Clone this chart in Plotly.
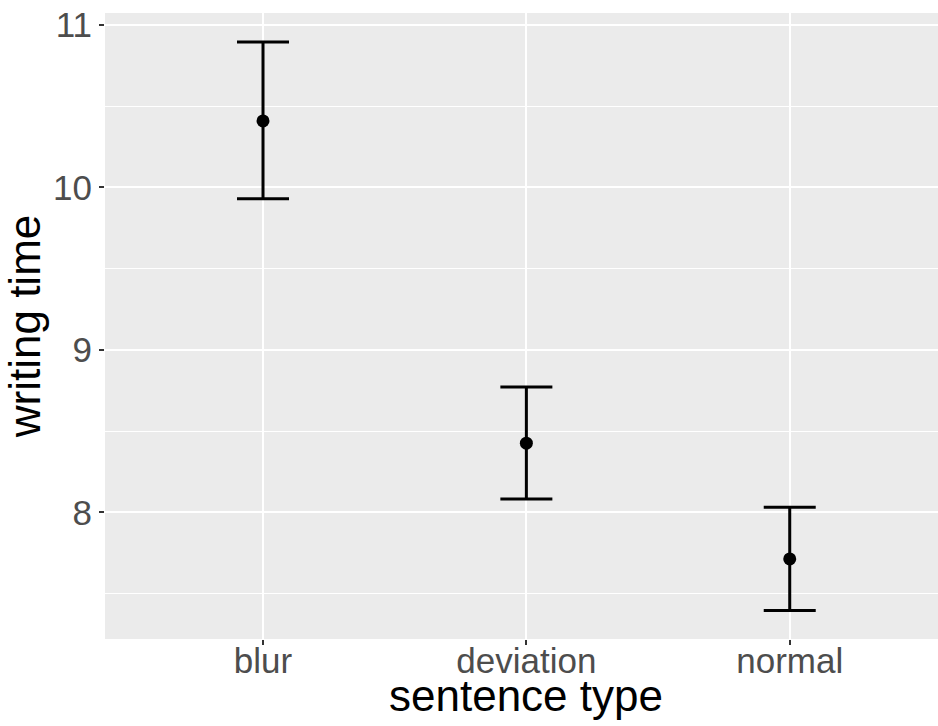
import plotly.graph_objects as go

categories = ["blur", "deviation", "normal"]
means = [10.41, 8.426, 7.714]
upper = [10.895, 8.772, 8.032]
lower = [9.93, 8.083, 7.396]

err_plus = [u - m for u, m in zip(upper, means)]
err_minus = [m - l for m, l in zip(means, lower)]

fig = go.Figure()
fig.add_trace(go.Scatter(
    x=categories, y=means, mode="markers",
    marker=dict(color="black", size=13),
    error_y=dict(type="data", symmetric=False, array=err_plus, arrayminus=err_minus,
                 color="black", thickness=3, width=26),
    showlegend=False,
))

font = "Liberation Sans, Arial, sans-serif"
fig.update_layout(
    width=938, height=726,
    margin=dict(l=105, r=0, t=13, b=87),
    paper_bgcolor="white", plot_bgcolor="#EBEBEB",
    font=dict(family=font),
    xaxis=dict(
        type="category", categoryorder="array", categoryarray=categories,
        range=[-0.6, 2.563],
        showgrid=True, gridcolor="white", gridwidth=2,
        ticks="outside", ticklen=5, tickwidth=1.5, tickcolor="#333333",
        tickfont=dict(size=35, color="#4D4D4D"),
        ticklabelstandoff=-14,
        zeroline=False, showline=False,
    ),
    yaxis=dict(
        range=[7.221, 11.074],
        tickvals=[8, 9, 10, 11],
        showgrid=True, gridcolor="white", gridwidth=2,
        minor=dict(tickvals=[7.5, 8.5, 9.5, 10.5], showgrid=True, gridcolor="white", gridwidth=1),
        ticks="outside", ticklen=5, tickwidth=1.5, tickcolor="#333333",
        tickfont=dict(size=35, color="#4D4D4D"),
        title=dict(text="writing time", font=dict(size=44, color="black"), standoff=8),
        zeroline=False, showline=False,
    ),
    annotations=[dict(
        text="sentence type", xref="paper", yref="paper",
        x=(526 - 105) / 833, y=-(707 - 639) / 626, yanchor="bottom", xanchor="center",
        yshift=-15, showarrow=False, font=dict(size=44, color="black"),
    )],
)

fig.write_html("out.html")
